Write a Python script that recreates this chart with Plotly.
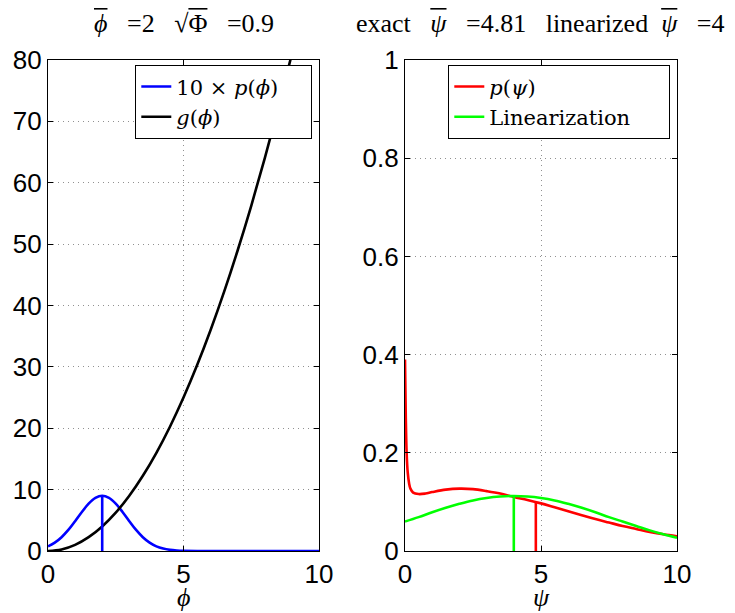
import plotly.graph_objects as go

# ---- data ----
phi_x = [0, 0.25, 0.5, 0.75, 1, 1.25, 1.5, 1.75, 2, 2.25, 2.5, 2.75, 3, 3.25, 3.5,
         3.75, 4, 4.25, 4.5, 4.75, 5, 6, 7, 8, 9, 10]
p_phi_10 = [0.76, 1.36, 2.25, 3.43, 4.86, 6.36, 7.72, 8.66, 9.0, 8.66, 7.72, 6.36, 4.86,
            3.43, 2.25, 1.36, 0.76, 0.40, 0.19, 0.08, 0.03, 0, 0, 0, 0, 0]
g_x = [0, 0.5, 1, 1.5, 2, 2.5, 3, 3.5, 4, 4.5, 5, 5.5, 6, 6.5, 7, 7.5, 8, 8.5, 9, 9.5, 10]
g_phi = [0, 0.25, 1, 2.25, 4, 6.25, 9, 12.25, 16, 20.25, 25, 30.25, 36, 42.25, 49,
         56.25, 64, 72.25, 81, 90.25, 100]
phi_mean_x = [2, 2]
phi_mean_y = [0, 9.0]

psi_x = [0, 0.03, 0.06, 0.1, 0.15, 0.2, 0.3, 0.5, 0.75, 1, 1.5, 2, 2.5, 3, 3.5, 4, 4.5,
         5, 5.5, 6, 6.5, 7, 7.5, 8, 8.5, 9, 9.5, 10]
p_psi = [0.39, 0.27, 0.2, 0.16, 0.138, 0.127, 0.119, 0.116, 0.117, 0.12, 0.125, 0.127,
         0.126, 0.122, 0.117, 0.11, 0.104, 0.097, 0.089, 0.081, 0.073, 0.065, 0.058,
         0.051, 0.045, 0.039, 0.034, 0.030]
lin_x = [0, 0.5, 1, 1.5, 2, 2.5, 3, 3.5, 4, 4.5, 5, 5.5, 6, 6.5, 7, 7.5, 8, 8.5, 9,
         9.5, 10]
lin_psi = [0.060, 0.069, 0.079, 0.088, 0.096, 0.103, 0.108, 0.111, 0.112, 0.111, 0.108,
           0.103, 0.096, 0.088, 0.079, 0.069, 0.060, 0.051, 0.042, 0.034, 0.027]
exact_mean_x = [4.81, 4.81]
exact_mean_y = [0, 0.098]
lin_mean_x = [4, 4]
lin_mean_y = [0, 0.112]

OL = "<span style='text-decoration:overline'>{}</span>"
left_title = OL.format("<i>ϕ</i>") + "   =2   √" + OL.format("Φ") + "   =0.9"
right_title = ("exact   " + OL.format("<i>ψ</i>") + "   =4.81   linearized  "
               + OL.format("<i>ψ</i>") + "   =4")

SERIF = "Liberation Serif"
LEG_SERIF = "DejaVu Serif"
SANS = "Liberation Sans"
LW = 2.6

fig = go.Figure()
fig.add_trace(go.Scatter(x=phi_x, y=p_phi_10, mode="lines",
                         name="10 × <i>p</i>(<i>ϕ</i>)    ",
                         line=dict(color="#0000ff", width=LW, shape="spline"),
                         xaxis="x", yaxis="y", legend="legend"))
fig.add_trace(go.Scatter(x=g_x, y=g_phi, mode="lines", name="<i>g</i>(<i>ϕ</i>)",
                         line=dict(color="#000000", width=LW, shape="spline"),
                         xaxis="x", yaxis="y", legend="legend"))
fig.add_trace(go.Scatter(x=phi_mean_x, y=phi_mean_y, mode="lines", showlegend=False,
                         line=dict(color="#0000ff", width=LW), xaxis="x", yaxis="y"))

fig.add_trace(go.Scatter(x=psi_x, y=p_psi, mode="lines", name="<i>p</i>(<i>ψ</i>)",
                         line=dict(color="#ff0000", width=LW, shape="spline"),
                         xaxis="x2", yaxis="y2", legend="legend2"))
fig.add_trace(go.Scatter(x=lin_x, y=lin_psi, mode="lines", name="Linearization     ",
                         line=dict(color="#00ff00", width=LW, shape="spline"),
                         xaxis="x2", yaxis="y2", legend="legend2"))
fig.add_trace(go.Scatter(x=lin_mean_x, y=lin_mean_y, mode="lines", showlegend=False,
                         line=dict(color="#00ff00", width=LW), xaxis="x2", yaxis="y2"))
fig.add_trace(go.Scatter(x=exact_mean_x, y=exact_mean_y, mode="lines", showlegend=False,
                         line=dict(color="#ff0000", width=LW), xaxis="x2", yaxis="y2"))

# page is offset by the 8px body margin: page pixel p -> figure pixel p - 8
OFF = 8
W, H = 735 - OFF, 613 - OFF


def px(x):
    return (x - OFF) / W


def py(y):
    return (H - (y - OFF)) / H


xl = (px(48), px(319))
xr = (px(405), px(677))
yd = (py(551), py(60))

axis_common = dict(showline=True, linecolor="black", linewidth=1.3, mirror="allticks",
                   ticks="inside", ticklen=5, tickcolor="black", showgrid=True,
                   gridcolor="#909090", griddash="1px,4px", gridwidth=1, zeroline=False,
                   automargin=False,
                   tickfont=dict(family=SANS, size=26, color="black"))

fig.update_layout(
    width=W, height=H, margin=dict(l=0, r=0, t=0, b=0),
    plot_bgcolor="white", paper_bgcolor="white",
    xaxis=dict(domain=xl, range=[0, 10], tickvals=[0, 5, 10], anchor="y", **axis_common),
    yaxis=dict(domain=yd, range=[0, 80], tickvals=list(range(0, 81, 10)), anchor="x",
               **axis_common),
    xaxis2=dict(domain=xr, range=[0, 10], tickvals=[0, 5, 10], anchor="y2", **axis_common),
    yaxis2=dict(domain=yd, range=[0, 1], tickvals=[0, 0.2, 0.4, 0.6, 0.8, 1],
                ticktext=["0", "0.2", "0.4", "0.6", "0.8", "1"], anchor="x2", **axis_common),
    legend=dict(x=px(312), y=py(65), xanchor="right", yanchor="top",
                bordercolor="black", borderwidth=1.3, bgcolor="white",
                font=dict(family=LEG_SERIF, size=21, color="black"),
                tracegroupgap=0, itemwidth=30),
    legend2=dict(x=px(670), y=py(65), xanchor="right", yanchor="top",
                 bordercolor="black", borderwidth=1.3, bgcolor="white",
                 font=dict(family=LEG_SERIF, size=21, color="black"),
                 tracegroupgap=0, itemwidth=30),
    annotations=[
        dict(text=left_title, x=px(183.5), y=py(23), xref="paper", yref="paper",
             showarrow=False, xanchor="center", yanchor="middle",
             font=dict(family=SERIF, size=26, color="black")),
        dict(text=right_title, x=px(540), y=py(23), xref="paper", yref="paper",
             showarrow=False, xanchor="center", yanchor="middle",
             font=dict(family=SERIF, size=26, color="black")),
        dict(text="<i>ϕ</i>", x=px(183.5), y=py(597), xref="paper", yref="paper",
             showarrow=False, xanchor="center", yanchor="middle",
             font=dict(family=SERIF, size=26, color="black")),
        dict(text="<i>ψ</i>", x=px(541), y=py(597), xref="paper", yref="paper",
             showarrow=False, xanchor="center", yanchor="middle",
             font=dict(family=SERIF, size=26, color="black")),
    ],
)

fig.write_html("out.html")
